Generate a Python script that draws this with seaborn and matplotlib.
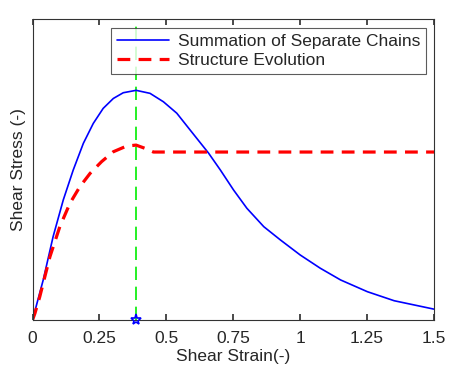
#!/usr/bin/env python3
import matplotlib
matplotlib.use("Agg")
import matplotlib.pyplot as plt
import seaborn as sns

sns.set_theme(style="white", context="notebook")
plt.rcParams['font.family'] = ['Liberation Sans', 'DejaVu Sans']

# values (stress normalised to the axis height)
chain_x = [0.0, 0.04, 0.077, 0.115, 0.152, 0.19, 0.227, 0.264, 0.302, 0.339,
           0.387, 0.439, 0.489, 0.539, 0.589, 0.658, 0.702, 0.751, 0.801,
           0.864, 0.926, 1.0, 1.075, 1.151, 1.251, 1.351, 1.5]
chain_y = [0.0, 0.133, 0.277, 0.399, 0.498, 0.587, 0.653, 0.703, 0.736, 0.755,
           0.763, 0.753, 0.725, 0.687, 0.631, 0.554, 0.498, 0.432, 0.371,
           0.310, 0.266, 0.216, 0.172, 0.133, 0.094, 0.064, 0.036]
evo_x = [0.0, 0.009, 0.027, 0.065, 0.102, 0.14, 0.177, 0.215, 0.258, 0.302,
         0.352, 0.387, 0.421, 0.452, 1.5]
evo_y = [0.0, 0.022, 0.077, 0.21, 0.31, 0.388, 0.443, 0.487, 0.526, 0.559,
         0.578, 0.581, 0.570, 0.558, 0.558]
peak_strain = 0.387
xticks = [0, 0.25, 0.5, 0.75, 1, 1.25, 1.5]
xtick_labels = ['0', '0.25', '0.5', '0.75', '1', '1.25', '1.5']

fig = plt.figure(figsize=(4.54, 3.71), dpi=100)
ax = fig.add_axes([0.0716, 0.1375, 0.8844, 0.8113])

sns.lineplot(x=chain_x, y=chain_y, ax=ax, color='#0000ff', lw=1.2,
             sort=False, label='Summation of Separate Chains')
sns.lineplot(x=evo_x, y=evo_y, ax=ax, color='#ff0000', lw=2.3,
             sort=False, label='Structure Evolution')
ax.lines[-1].set_linestyle((0, (4, 2.6)))
ax.axvline(peak_strain, color='#00ee00', lw=1.2, ls=(0, (8, 4)), zorder=1)
ax.plot([peak_strain], [0], marker='*', ms=8, mfc='none', mec='#0000ff',
        mew=1.2, clip_on=False, zorder=5)

ax.set_xlim(0, 1.5)
ax.set_ylim(0, 1)
ax.set_xticks(xticks)
ax.set_xticklabels(xtick_labels)
ax.set_yticks([])
ax.tick_params(axis='x', direction='in', length=4, top=True, bottom=True,
               labelsize=12.5, pad=8, color='#333333')
for s in ax.spines.values():
    s.set_color('#333333')
    s.set_linewidth(0.8)
ax.set_xlabel('Shear Strain(-)', fontsize=12.5, labelpad=2)
ax.set_ylabel('Shear Stress (-)', fontsize=12.5, labelpad=5)

leg = ax.legend(loc='upper right', fontsize=12.5, handlelength=3.0,
                handletextpad=0.5, frameon=True, fancybox=False,
                borderpad=0.35, labelspacing=0.2,
                bbox_to_anchor=(0.98, 0.97), borderaxespad=0)
leg.get_frame().set_edgecolor('#333333')
leg.get_frame().set_linewidth(0.8)

fig.savefig('out.png', dpi=100)
